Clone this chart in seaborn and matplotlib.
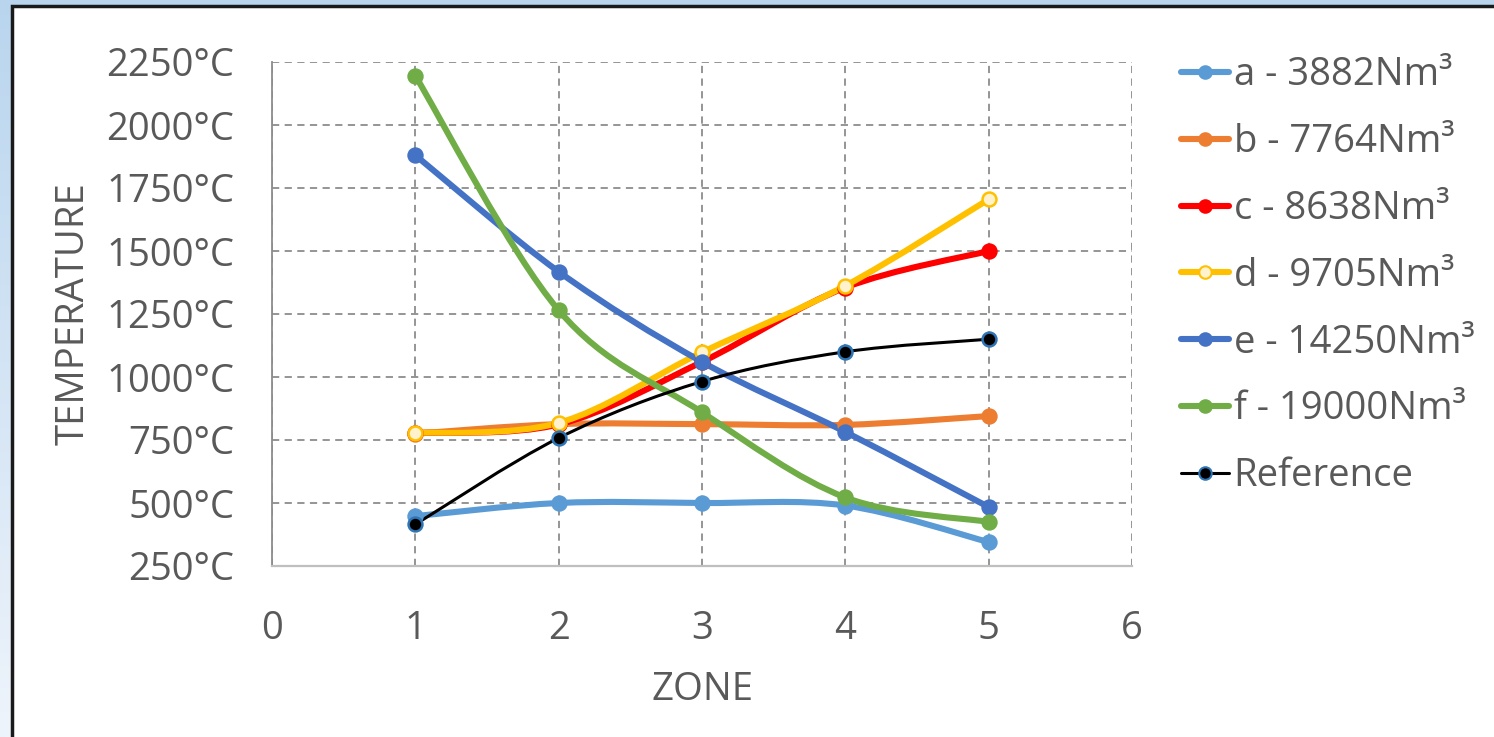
import numpy as np
import matplotlib
matplotlib.use("Agg")
import matplotlib.pyplot as plt
import seaborn as sns
from matplotlib.path import Path
from matplotlib.patches import PathPatch, Rectangle
from matplotlib.lines import Line2D

# --- data ---
zones = [1, 2, 3, 4, 5]
temp_a = [448, 500, 500, 490, 345]
temp_b = [775, 813, 813, 810, 845]
temp_c = [778, 812, 1060, 1355, 1500]
temp_d = [778, 818, 1098, 1362, 1705]
temp_e = [1880, 1418, 1060, 782, 484]
temp_f = [2195, 1265, 860, 522, 425]
temp_ref = [415, 758, 982, 1100, 1150]

labels = ["a - 3882Nm³", "b - 7764Nm³", "c - 8638Nm³", "d - 9705Nm³",
          "e - 14250Nm³", "f - 19000Nm³", "Reference"]
colors = ["#5B9BD5", "#ED7D31", "#FF0000", "#FFC000", "#4472C4", "#70AD47", "#000000"]
series = [temp_a, temp_b, temp_c, temp_d, temp_e, temp_f, temp_ref]

y_ticks = [250, 500, 750, 1000, 1250, 1500, 1750, 2000, 2250]
x_ticks = [0, 1, 2, 3, 4, 5, 6]

sns.set_theme(style="white")
plt.rcParams["font.family"] = ["Open Sans", "DejaVu Sans"]
TXT = "#595959"
FS = 27.5


def smooth_path(xs, ys):
    # Excel-like smoothed line: cubic bezier segments between the points
    pts = np.column_stack([xs, ys]).astype(float)
    verts = [pts[0]]
    codes = [Path.MOVETO]
    n = len(pts)
    for i in range(n - 1):
        p0 = pts[i - 1] if i > 0 else pts[i]
        p1, p2 = pts[i], pts[i + 1]
        p3 = pts[i + 2] if i + 2 < n else pts[i + 1]
        c1 = p1 + (p2 - p0) / 6.0
        c2 = p2 - (p3 - p1) / 6.0
        verts += [c1, c2, p2]
        codes += [Path.CURVE4] * 3
    return Path(verts, codes)


fig = plt.figure(figsize=(14.94, 7.37), dpi=100)

# light blue frame with white panel
bg = fig.add_axes([0, 0, 1, 1], zorder=-10)
grad = np.linspace(0, 1, 256).reshape(-1, 1)
bg.imshow(grad, aspect="auto", extent=[0, 1, 0, 1],
          cmap=matplotlib.colors.LinearSegmentedColormap.from_list("g", ["#EEF4FB", "#B9D5EE"]),
          origin="lower")
bg.add_patch(Rectangle((12 / 1494, -0.05), 1.1, 1 - 6 / 737 + 0.05,
                       facecolor="white", edgecolor="#1a1a1a", linewidth=2.5))
bg.set_xlim(0, 1)
bg.set_ylim(0, 1)
bg.axis("off")

ax = fig.add_axes([272 / 1494, 1 - 566 / 737, (1132 - 272) / 1494, (566 - 62) / 737])
ax.set_facecolor("none")

handles = []
for i, (vals, col, lab) in enumerate(zip(series, colors, labels)):
    is_ref = lab == "Reference"
    lw = 2.2 if is_ref else 4.4
    ax.add_patch(PathPatch(smooth_path(zones, vals), facecolor="none",
                           edgecolor=col, linewidth=lw, zorder=3 + i * 0.1,
                           capstyle="round"))
    if is_ref:
        fc, ec = "#000000", "#2E75B6"
    elif lab.startswith("d"):
        fc, ec = "#FFF2CC", col
    else:
        fc, ec = col, col
    sns.scatterplot(x=zones, y=vals, ax=ax, s=100, color=fc, edgecolor=ec,
                    linewidth=1.8, zorder=4 + i * 0.1, legend=False)
    handles.append(Line2D([], [], color=col, linewidth=lw, marker="o",
                          markersize=9, markerfacecolor=fc, markeredgecolor=ec,
                          markeredgewidth=1.5))

ax.set_xlim(0, 6)
ax.set_ylim(250, 2250)
ax.set_xticks(x_ticks)
ax.set_yticks(y_ticks)
ax.set_xticklabels([str(t) for t in x_ticks])
ax.set_yticklabels([f"{t}°C" for t in y_ticks])
ax.tick_params(axis="both", labelsize=FS, colors=TXT, length=0)
ax.tick_params(axis="y", pad=27)
ax.tick_params(axis="x", pad=32)
ax.grid(True, linestyle=(0, (4, 3)), color="#8C8C8C", linewidth=1.3)
for side in ["top", "right"]:
    ax.spines[side].set_visible(False)
ax.spines["left"].set_color("#8C8C8C")
ax.spines["left"].set_linewidth(1.3)
ax.spines["bottom"].set_color("#BFBFBF")
ax.spines["bottom"].set_linewidth(1.6)

ax.set_xlabel("ZONE", fontsize=FS, color=TXT, labelpad=16)
ax.set_ylabel("TEMPERATURE", fontsize=FS, color=TXT, labelpad=10)

fig.legend(handles=handles, labels=labels, loc="upper left",
           bbox_to_anchor=(1166 / 1494, 1 - 41 / 737), frameon=False,
           fontsize=FS, labelcolor=TXT, handlelength=1.25, handletextpad=0.12,
           labelspacing=0.755, borderaxespad=0)

fig.savefig("out.png", dpi=100)
